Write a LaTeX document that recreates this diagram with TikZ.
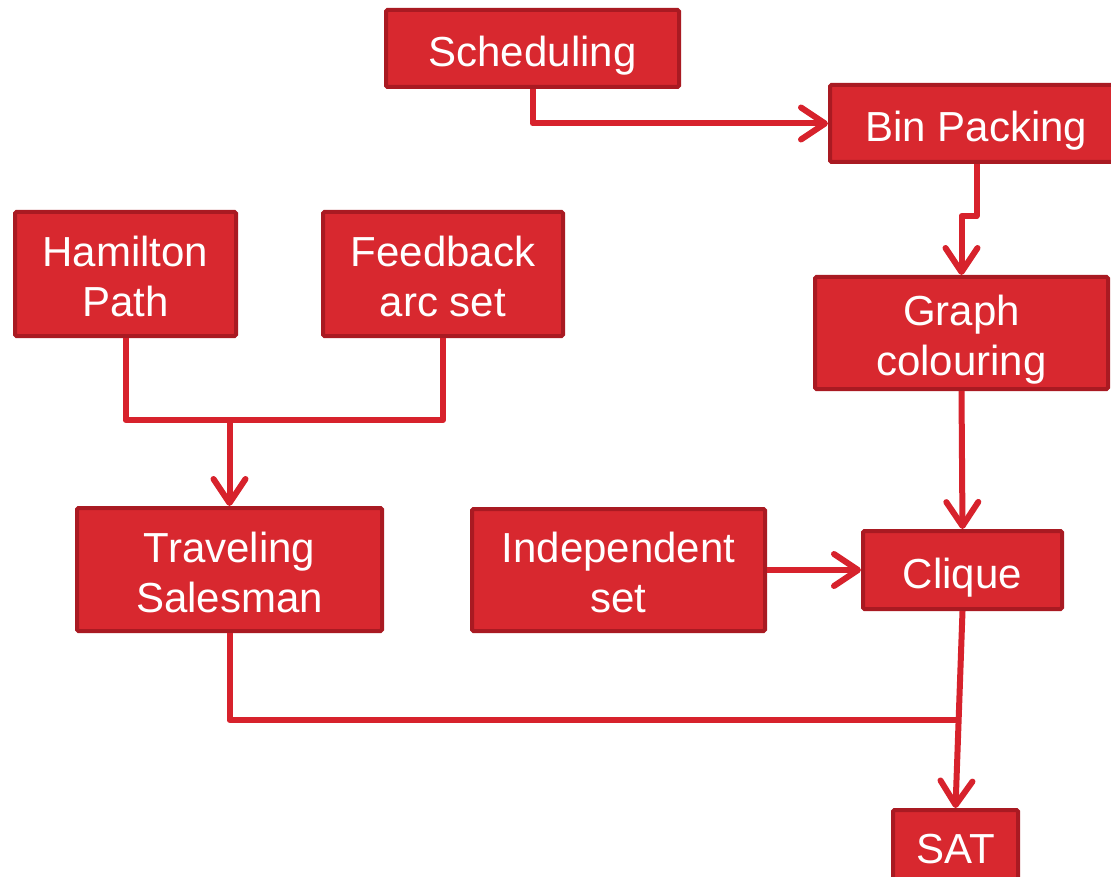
\documentclass[tikz,border=0pt]{standalone}
\usepackage{fontspec}
\setmainfont{Liberation Sans}
\usetikzlibrary{arrows.meta,calc}
\definecolor{boxfill}{HTML}{D8282F}
\definecolor{boxedge}{HTML}{A91A22}
\definecolor{wire}{HTML}{D7222C}
\tikzset{
  problem/.style={draw=boxedge, fill=boxfill, line width=4pt, rounded corners=1.5pt,
    text=white, align=center, inner sep=0pt,
    font=\fontsize{42}{50}\selectfont},
  oneline/.style={problem, text height=36pt, text depth=0pt},
  twoline/.style={problem, text height=85pt, text depth=0pt},
  conn/.style={draw=wire, line width=6pt, line join=round},
  arr/.style={conn, -{Straight Barb[length=24pt,width=32pt,round]}}
}
\begin{document}
\begin{tikzpicture}[x=1pt,y=-1pt]
\clip (0,0) rectangle (1111,877);
\fill[white] (0,0) rectangle (1111,877);

% problem boxes
\node[oneline, minimum width=293pt, minimum height=77pt]  (sched)  at (532.5,48.5) {Scheduling};
\node[oneline, minimum width=293pt, minimum height=77pt]  (bin)    at (976.5,123.5){Bin Packing};
\node[twoline, minimum width=221pt, minimum height=124pt] (ham)    at (125.5,274)  {Hamilton\\Path};
\node[twoline, minimum width=240pt, minimum height=124pt] (fb)     at (443,274)    {Feedback\\arc set};
\node[twoline, minimum width=293pt, minimum height=112pt] (gc)     at (961.5,333)  {Graph\\colouring};
\node[twoline, minimum width=305pt, minimum height=123pt] (ts)     at (229.5,569.5){Traveling\\Salesman};
\node[twoline, minimum width=293pt, minimum height=122pt] (ind)    at (618.5,570)  {Independent\\set};
\node[oneline, minimum width=199pt, minimum height=78pt]  (clique) at (962.5,570)  {Clique};
\node[problem, text height=30pt, text depth=4pt,
      minimum width=125pt, minimum height=80pt]           (sat)    at (955.5,850)  {SAT};

% junction points
\coordinate (j1) at (229.5,420);
\coordinate (j2) at (958.6,720);

% reductions
\draw[arr] (sched.south) |- (bin.west);
\draw[arr] (bin.south) |- ($(gc.north)+(0,-59)$) -- (gc.north);
\draw[conn] (ham.south) |- (j1) -| (fb.south);
\draw[arr] (j1) -- (ts.north);
\draw[arr] (gc.south) -- (clique.north);
\draw[arr] (ind.east) -- (clique.west);
\draw[arr] (clique.south) -- (sat.north);
\draw[conn] (ts.south) |- (j2);
\end{tikzpicture}
\end{document}
